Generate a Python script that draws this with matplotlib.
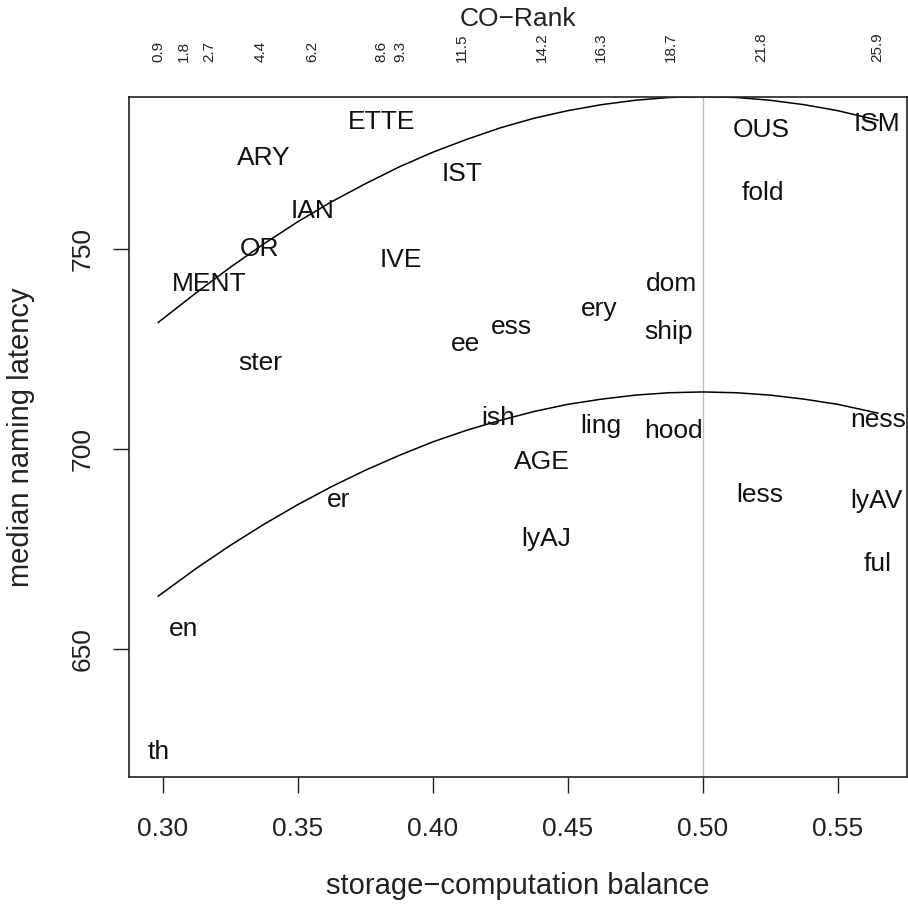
import matplotlib

matplotlib.use("Agg")

import matplotlib.pyplot as plt

plt.rcParams["font.family"] = ["Liberation Sans", "DejaVu Sans"]

# suffix labels placed at (balance, latency)
words = ["ETTE", "ARY", "IST", "IAN", "OR", "IVE", "MENT", "ster", "ee", "ess",
         "ery", "dom", "ship", "OUS", "fold", "ISM", "ish", "ling", "hood", "ness",
         "AGE", "er", "less", "lyAV", "lyAJ", "ful", "en", "th"]
balance = [0.3809, 0.3374, 0.4109, 0.3554, 0.3358, 0.3880, 0.3173, 0.3362, 0.4120, 0.4290,
           0.4617, 0.4883, 0.4874, 0.5217, 0.5221, 0.5646, 0.4243, 0.4624, 0.4893, 0.5648,
           0.4405, 0.3650, 0.5211, 0.5643, 0.4420, 0.5649, 0.3078, 0.2983]
latency = [781.9, 772.8, 768.9, 759.5, 750.1, 747.4, 741.4, 721.5, 726.3, 730.6,
           735.1, 741.2, 729.2, 779.9, 764.2, 781.3, 707.8, 705.8, 704.4, 707.2,
           696.7, 687.3, 688.5, 687.1, 677.5, 671.3, 654.9, 624.3]

# fitted curves
curve_x = [0.2983, 0.3125, 0.325, 0.3375, 0.350, 0.3625, 0.375, 0.3875, 0.400, 0.4125,
           0.425, 0.4375, 0.450, 0.4625, 0.475, 0.4875, 0.500, 0.5125, 0.525, 0.5375,
           0.550, 0.5649]
upper_y = [731.7, 739.2, 745.5, 751.4, 756.9, 761.9, 766.4, 770.6, 774.3, 777.5,
           780.4, 782.8, 784.7, 786.2, 787.3, 788.0, 788.2, 788.0, 787.3, 786.2,
           784.7, 782.3]
lower_y = [663.2, 670.2, 675.9, 681.2, 686.1, 690.6, 694.7, 698.4, 701.8, 704.7,
           707.2, 709.4, 711.2, 712.5, 713.5, 714.1, 714.3, 714.1, 713.5, 712.5,
           711.2, 709.0]

# CO-Rank labels on the top axis
rank_pos = [0.2983, 0.3078, 0.3173, 0.3362, 0.3554, 0.3809, 0.3880, 0.4109, 0.4405,
            0.4624, 0.4883, 0.5217, 0.5646]
rank_labels = ["0.9", "1.8", "2.7", "4.4", "6.2", "8.6", "9.3", "11.5", "14.2",
               "16.3", "18.7", "21.8", "25.9"]

x_ticks = [0.30, 0.35, 0.40, 0.45, 0.50, 0.55]
y_ticks = [650, 700, 750]

FS = 19
LABEL_FS = 21

fig = plt.figure(figsize=(9.08, 9.11), dpi=100)
ax = fig.add_axes([0.1426, 0.1474, 0.856, 0.7465])

xr = max(balance) - min(balance)
yr = max(latency) - min(latency)
ax.set_xlim(min(balance) - 0.04 * xr, max(balance) + 0.04 * xr)
ax.set_ylim(min(latency) - 0.04 * yr, max(latency) + 0.04 * yr)

ax.axvline(0.5, color="#bebebe", linewidth=1.0, zorder=1)
ax.plot(curve_x, upper_y, color="black", linewidth=1.1, zorder=2)
ax.plot(curve_x, lower_y, color="black", linewidth=1.1, zorder=2)

for word, bx, ly in zip(words, balance, latency):
    ax.text(bx, ly, word, ha="center", va="center", fontsize=FS, color="#111111", zorder=3)

ax.set_xticks(x_ticks, [f"{t:.2f}" for t in x_ticks])
ax.set_yticks(y_ticks, [str(t) for t in y_ticks])
ax.tick_params(axis="both", direction="out", length=11.5, width=1.0, labelsize=FS,
               color="#222222", labelcolor="#222222")
ax.tick_params(axis="x", pad=17.5)
ax.tick_params(axis="y", pad=13.5, labelrotation=90)
for label in ax.get_yticklabels():
    label.set_verticalalignment("center")
for spine in ax.spines.values():
    spine.set_linewidth(1.2)
    spine.set_color("#222222")

top = ax.twiny()
top.set_xlim(ax.get_xlim())
top.set_xticks(rank_pos, rank_labels)
top.tick_params(axis="x", length=0, pad=25, labelsize=11, labelrotation=90,
                labelcolor="#222222")
for spine in top.spines.values():
    spine.set_visible(False)

pos = ax.get_position()
xc = pos.x0 + pos.width / 2
yc = pos.y0 + pos.height / 2
fig.text(xc, 1 - 886 / 911, "storage\u2212computation balance", ha="center", va="center",
         fontsize=LABEL_FS, color="#222222")
fig.text(21 / 908, yc, "median naming latency", ha="center", va="center", rotation=90,
         fontsize=LABEL_FS, color="#222222")
fig.text(xc, 1 - 18.5 / 911, "CO\u2212Rank", ha="center", va="center",
         fontsize=FS, color="#222222")

fig.savefig("out.png", dpi=100)
